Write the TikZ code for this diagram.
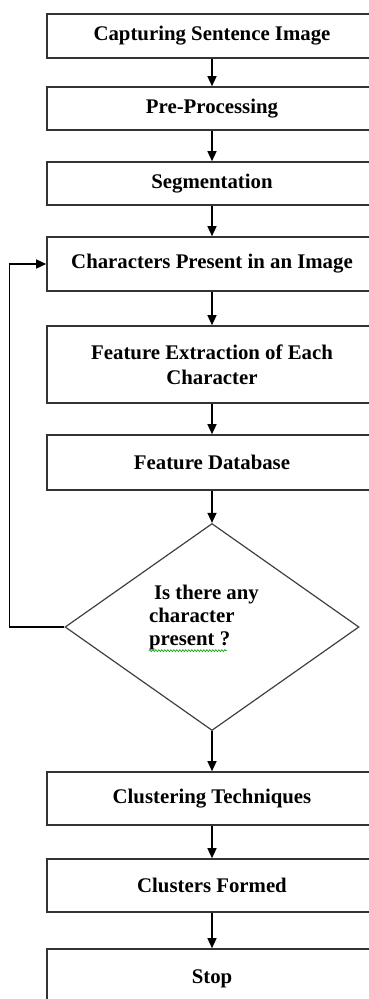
\documentclass[tikz,border=0pt]{standalone}
\usepackage{fontspec}
\setmainfont{Liberation Serif}
\usetikzlibrary{arrows.meta}
\usetikzlibrary{shapes.geometric}
\usetikzlibrary{decorations.pathmorphing}

\begin{document}
\begin{tikzpicture}[x=1pt, y=-1pt]
            \tikzstyle{stepbox} = [draw=black!80, line width=1.6pt, minimum width=330pt, inner sep=0pt, align=center, font=\fontsize{20.8}{25}\selectfont\bfseries]
            \tikzstyle{decision} = [diamond, draw=black!75, line width=1.2pt, aspect=1.42, minimum width=294pt, minimum height=207pt, inner sep=0pt]
            \tikzstyle{flow} = [line width=1.4pt, -{Triangle[length=10pt, width=9pt]}]
            \useasboundingbox (0,0) rectangle (368,999);
            \node[stepbox, minimum height=44pt] (capture) at (212,36) {Capturing Sentence Image};
            \node[stepbox, minimum height=43pt] (preproc) at (212,108.5) {Pre-Processing};
            \node[stepbox, minimum height=43pt] (segment) at (212,183.5) {Segmentation};
            \node[stepbox, minimum height=54pt] (chars) at (212,264) {Characters Present in an Image};
            \node[stepbox, minimum height=77pt] (extract) at (212,364.5) {Feature Extraction of Each\\Character};
            \node[stepbox, minimum height=55pt] (database) at (212,462.5) {Feature Database};
            \node[decision] (decide) at (212,627) {};
            \node[inner sep=0pt, align=left, font=\fontsize{20.8}{23}\selectfont\bfseries] (question) at (204,617) {\hspace{5pt}Is there any\\character\\present ?};
            \node[stepbox, minimum height=53pt] (cluster) at (212,798.5) {Clustering Techniques};
            \node[stepbox, minimum height=53pt] (formed) at (212,885.5) {Clusters Formed};
            \node[stepbox, minimum height=60pt] (stop) at (212,979) {Stop};
            \draw[flow] (capture) -- (preproc);
            \draw[flow] (preproc) -- (segment);
            \draw[flow] (segment) -- (chars);
            \draw[flow] (chars) -- (extract);
            \draw[flow] (extract) -- (database);
            \draw[flow] (database) -- (decide);
            \draw[flow] (decide) -- (cluster);
            \draw[flow] (cluster) -- (formed);
            \draw[flow] (formed) -- (stop);
            \draw[flow] (decide.west) -- ++(-55,0) |- (chars.west);
            \draw[green!60!black, line width=0.6pt, decorate, decoration={snake, amplitude=1pt, segment length=3pt}] (question.south west) ++(0,1) -- ++(78,0);
        \end{tikzpicture}
\end{document}
